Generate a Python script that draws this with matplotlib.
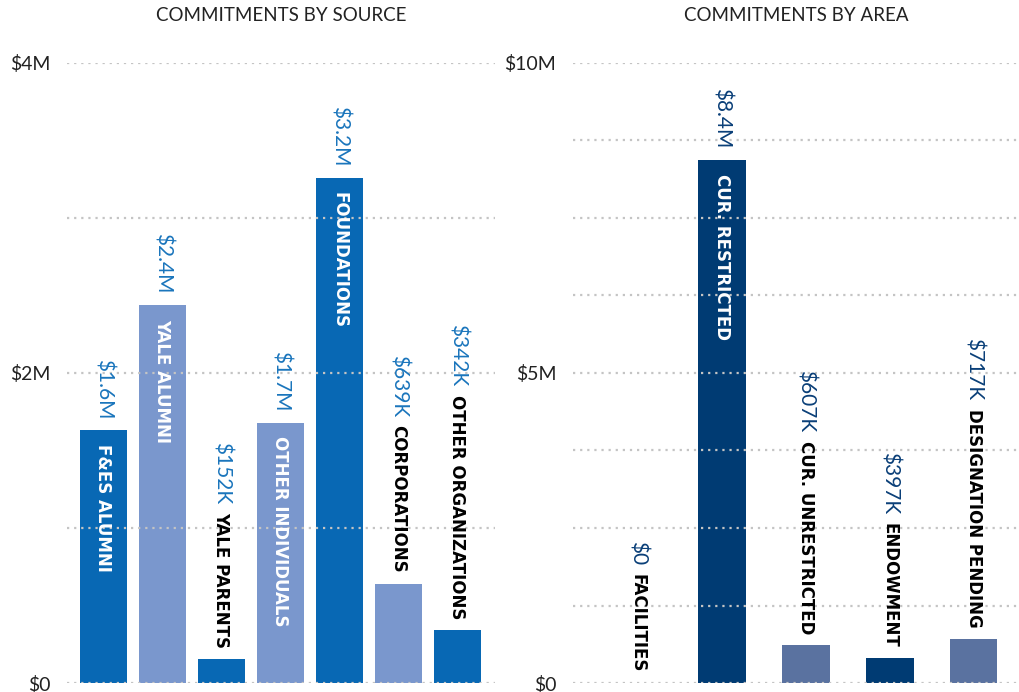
import matplotlib.pyplot as plt
from matplotlib.ticker import FixedLocator, FuncFormatter

# values in $M
source_names = ["F&ES ALUMNI", "YALE ALUMNI", "YALE PARENTS", "OTHER INDIVIDUALS",
                "FOUNDATIONS", "CORPORATIONS", "OTHER ORGANIZATIONS"]
source_values = [1.63, 2.44, 0.152, 1.68, 3.26, 0.639, 0.342]
source_labels = ["$1.6M", "$2.4M", "$152K", "$1.7M", "$3.2M", "$639K", "$342K"]

area_names = ["FACILITIES", "CUR. RESTRICTED", "CUR. UNRESTRICTED", "ENDOWMENT",
              "DESIGNATION PENDING"]
area_values = [0.0, 8.44, 0.607, 0.397, 0.717]
area_labels = ["$0", "$8.4M", "$607K", "$397K", "$717K"]

BLUE, LIGHT = "#0868b4", "#7a97cd"
NAVY, SLATE = "#003b73", "#5a72a0"

plt.rcParams['font.family'] = ['Lato', 'DejaVu Sans']


def draw_panel(ax, names, values, labels, colors, ymax, step, title,
               xlim, width, value_color):
    x = range(len(values))
    ax.bar(x, values, width=width, color=colors, zorder=1)
    ax.set_xlim(*xlim)
    ax.set_ylim(0, ymax)

    for s in ax.spines.values():
        s.set_visible(False)
    ax.set_xticks([])
    ax.yaxis.set_major_locator(FixedLocator([0, ymax / 2, ymax]))
    ax.yaxis.set_minor_locator(FixedLocator([i * step for i in range(int(round(ymax / step)) + 1)]))
    ax.yaxis.set_major_formatter(FuncFormatter(lambda v, p: "$0" if v == 0 else f"${v:g}M"))
    ax.tick_params(axis='y', which='both', length=0, pad=12, labelsize=14, labelcolor="#222222")
    ax.grid(axis='y', which='both', color="#c4c4c4", linestyle=(0, (1, 2.2)), linewidth=1.6)
    ax.set_axisbelow(False)
    ax.set_title(title, fontsize=13.5, color="#222222", pad=30)

    for i, (v, name, lab) in enumerate(zip(values, names, labels)):
        if v / ymax > 0.3:
            # category inside the bar, value above it
            ax.annotate(name, xy=(i, v), xytext=(0, -10), textcoords='offset points',
                        rotation=-90, ha='center', va='top', color='white',
                        fontsize=12, fontweight='bold', family='DejaVu Sans', zorder=4)
            ax.annotate(lab, xy=(i, v), xytext=(0, 8), textcoords='offset points',
                        rotation=-90, ha='center', va='bottom', color=value_color,
                        fontsize=15, annotation_clip=False, parse_math=False)
        else:
            t = ax.annotate(name, xy=(i, v), xytext=(0, 8), textcoords='offset points',
                            rotation=-90, ha='center', va='bottom', color='black',
                            fontsize=12, fontweight='bold', family='DejaVu Sans')
            ax.annotate(lab, xy=(0.5, 1), xycoords=t, xytext=(0, 6),
                        textcoords='offset points', rotation=-90, ha='center',
                        va='bottom', color=value_color, fontsize=15, parse_math=False)


fig = plt.figure(figsize=(10.19, 6.92), dpi=100)
ax1 = fig.add_axes([0.0657, 0.013, 0.42, 0.896])
ax2 = fig.add_axes([0.5623, 0.013, 0.4377, 0.896])

draw_panel(ax1, source_names, source_values, source_labels,
           [BLUE, LIGHT] * 3 + [BLUE], 4, 1, "COMMITMENTS BY SOURCE",
           (-0.62, 6.64), 0.8, "#1a75bc")
draw_panel(ax2, area_names, area_values, area_labels,
           [SLATE, NAVY] * 2 + [SLATE], 10, 1.25, "COMMITMENTS BY AREA",
           (-0.774, 4.536), 0.56, "#0a3f78")

fig.savefig("out.png", dpi=100)
